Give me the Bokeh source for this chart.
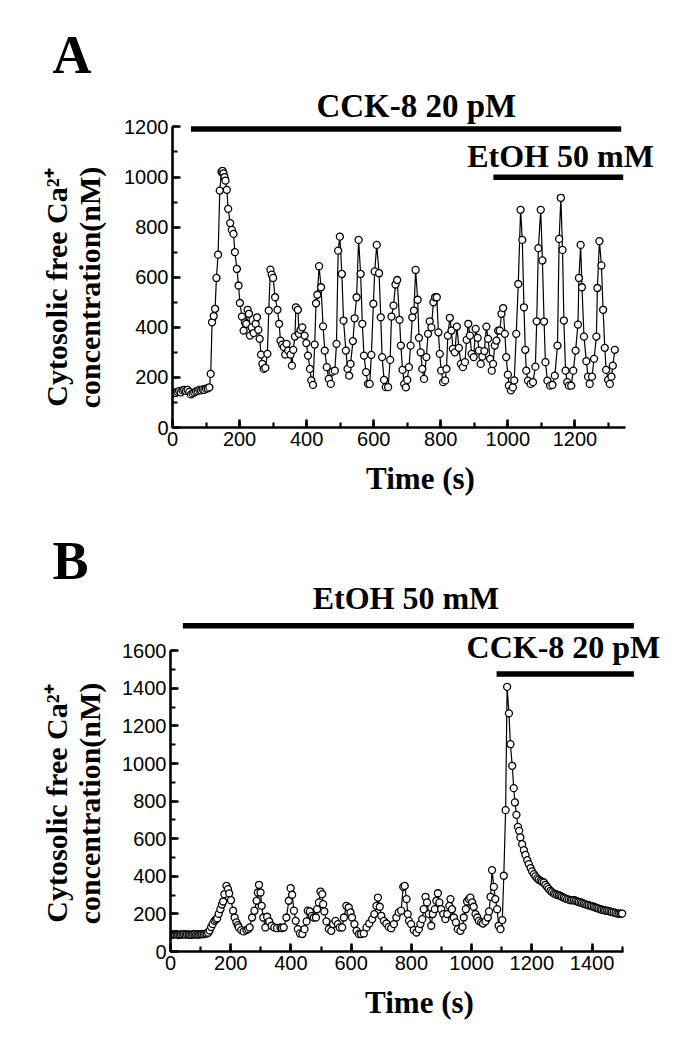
import math
from bokeh.plotting import figure
from bokeh.models import Label, SingleIntervalTicker
from bokeh.layouts import column, row
from bokeh.embed import file_html
from bokeh.resources import INLINE

SERIF = "Liberation Serif"
SANS = "Liberation Sans"

# ---------------- Panel A data: time (s) and cytosolic Ca2+ (nM) ----------------
time_a = [0, 5, 10, 15, 20, 25, 30, 35, 40, 45, 50, 55, 60, 65, 70, 75, 80, 85, 90, 95, 100, 105, 110,
          114, 118, 123, 127, 131, 136, 141, 146, 149, 152, 155, 158, 162, 166, 172, 177, 182, 186, 192,
          197, 201, 207, 212, 216, 220, 224, 228, 231, 236, 242, 248, 252, 256, 260, 264, 268, 272, 277,
          283, 287, 292, 296, 300, 306, 313, 318, 322, 327, 332, 336, 340, 345, 352, 356, 360, 365, 368,
          374, 377, 382, 387, 394, 399, 404, 410, 414, 419, 424, 428, 432, 437, 443, 449, 454, 460, 466,
          472, 477, 484, 489, 494, 499, 505, 510, 517, 522, 527, 531, 538, 543, 549, 555, 561, 566, 571,
          577, 583, 588, 593, 599, 603, 609, 616, 621, 625, 631, 636, 643, 649, 653, 659, 665, 670, 677,
          681, 686, 691, 696, 700, 705, 710, 715, 720, 725, 731, 735, 740, 745, 750, 757, 762, 767, 772,
          778, 783, 788, 793, 797, 801, 807, 813, 817, 821, 827, 832, 836, 842, 848, 854, 860, 866, 872,
          877, 882, 887, 892, 898, 904, 910, 914, 919, 924, 930, 936, 941, 947, 952, 956, 961, 966, 971,
          976, 981, 986, 991, 995, 1000, 1003, 1009, 1015, 1019, 1025, 1031, 1038, 1043, 1048, 1052, 1055,
          1060, 1068, 1075, 1082, 1086, 1091, 1098, 1103, 1108, 1112, 1118, 1126, 1133, 1140, 1148, 1153,
          1158, 1163, 1167, 1172, 1177, 1182, 1189, 1195, 1202, 1209, 1212, 1217, 1221, 1227, 1234, 1239,
          1244, 1251, 1257, 1264, 1267, 1273, 1279, 1284, 1289, 1293, 1299, 1304, 1309, 1313, 1319]
ca_a = [135, 140, 138, 142, 145, 140, 148, 150, 146, 150, 142, 132, 136, 140, 144, 146, 150, 148, 152, 150, 155, 156, 160,
        214, 420, 445, 474, 597, 690, 946, 1020, 1025, 1015, 1000, 986, 949, 873, 816, 789, 773, 700, 633,
        567, 497, 443, 387, 420, 414, 470, 454, 367, 400, 377, 414, 440, 390, 354, 291, 254, 234, 238,
        294, 467, 630, 610, 597, 520, 470, 414, 347, 331, 321, 291, 334, 307, 291, 247, 310, 363, 480,
        470, 374, 390, 400, 367, 337, 287, 234, 188, 170, 331, 496, 530, 644, 560, 404, 307, 241, 194,
        174, 223, 227, 334, 706, 762, 613, 427, 307, 234, 207, 254, 345, 436, 520, 749, 613, 414, 287,
        221, 174, 174, 290, 494, 623, 729, 616, 440, 281, 190, 161, 161, 270, 443, 487, 571, 589, 430,
        327, 230, 174, 160, 190, 241, 327, 440, 467, 629, 510, 358, 300, 234, 194, 281, 374, 424, 400,
        500, 520, 520, 380, 294, 227, 181, 188, 234, 367, 438, 387, 314, 300, 403, 318, 254, 241, 261,
        350, 414, 367, 294, 281, 394, 358, 307, 254, 283, 305, 403, 354, 274, 227, 254, 327, 347, 387,
        387, 454, 477, 374, 281, 211, 167, 148, 160, 188, 374, 573, 869, 749, 480, 310, 227,
        187, 174, 181, 243, 424, 716, 869, 667, 423, 261, 187, 167, 170, 207, 327, 753,
        917, 709, 427, 227, 181, 167, 167, 227, 307, 411, 597, 729, 560, 363, 265, 203,
        174, 203, 274, 363, 557, 744, 647, 470, 318, 230, 190, 174, 203, 247, 310]

# ---------------- Panel B data ----------------
time_b = [0, 5, 10, 15, 20, 25, 30, 35, 40, 45, 50, 55, 60, 65, 70, 75, 80, 85, 90, 95, 100, 105, 110, 115, 120, 125,
          130, 135, 140, 146, 151, 155, 160, 166, 171, 175, 179, 186, 191, 195, 201, 208, 213, 219, 224, 227,
          235, 243, 252, 258, 263, 271, 279, 286, 290, 294, 299, 303, 308, 315, 321, 328, 336, 345, 354, 365,
          370, 376, 385, 393, 399, 404, 410, 416, 423, 430, 438, 445, 452, 456, 463, 470, 476, 483, 487, 493,
          498, 504, 507, 511, 518, 526, 534, 540, 548, 556, 562, 570, 576, 584, 592, 598, 603, 611, 618, 626,
          633, 642, 651, 660, 670, 677, 684, 689, 695, 700, 709, 717, 725, 733, 742, 750, 758, 766, 773, 778,
          784, 788, 792, 799, 808, 817, 825, 830, 836, 841, 847, 852, 858, 866, 871, 878, 883, 888, 893, 899,
          906, 913, 919, 926, 930, 935, 941, 948, 954, 963, 970, 974, 981, 985, 991, 996, 1002, 1007, 1013,
          1019, 1024, 1032, 1038, 1046, 1054, 1058, 1063, 1068, 1074, 1079, 1085, 1090, 1096, 1102, 1107,
          1113, 1118, 1124, 1129, 1135, 1140, 1144, 1149, 1154, 1158, 1162, 1168, 1174, 1179, 1185, 1190,
          1196, 1201, 1207, 1212, 1218, 1223, 1229, 1234, 1240, 1245, 1251, 1256, 1262, 1267, 1273, 1278,
          1284, 1290, 1295, 1300, 1306, 1311, 1317, 1323, 1329, 1334, 1340, 1345, 1351, 1356, 1362, 1367,
          1373, 1378, 1384, 1389, 1395, 1400, 1406, 1411, 1417, 1422, 1428, 1433, 1439, 1444, 1450, 1455,
          1461, 1466, 1472, 1478, 1484, 1490, 1495, 1500]
ca_b = [90, 91, 90, 92, 91, 90, 89, 90, 91, 92, 90, 91, 90, 89, 90, 91, 92, 90, 91, 90, 92, 93, 92, 94, 96, 100,
        112, 130, 146, 163, 170, 177, 200, 225, 250, 266, 305, 349, 332, 309, 273, 217, 181, 155, 140, 128,
        114, 107, 114, 120, 128, 181, 217, 270, 314, 355, 314, 243, 181, 128, 185, 160, 137, 128, 124, 128,
        125, 128, 181, 270, 337, 302, 217, 163, 119, 96, 93, 119, 160, 217, 213, 190, 181, 181, 225, 261,
        319, 305, 252, 213, 160, 119, 110, 146, 163, 146, 128, 128, 181, 243, 234, 208, 181, 146, 110, 93,
        93, 96, 128, 149, 172, 199, 243, 287, 238, 190, 163, 149, 131, 124, 146, 181, 208, 217, 344, 349,
        279, 199, 163, 146, 114, 101, 119, 146, 172, 225, 291, 261, 199, 137, 199, 225, 270, 310, 261, 225,
        199, 172, 199, 243, 279, 225, 181, 155, 119, 110, 131, 181, 225, 266, 279, 287, 261, 238, 199,
        181, 163, 155, 149, 160, 181, 213, 291, 433, 344, 279, 225, 137, 119, 167, 403,
        752, 1408, 1267, 1103, 988, 869, 793, 727, 663, 642, 607, 571, 539, 514, 486, 465,
        444, 426, 412, 400, 389, 382, 376, 371, 367, 355, 344, 333, 323, 316, 309, 305,
        302, 299, 296, 291, 287, 283, 279, 276, 273, 273, 273, 270, 266, 263, 261, 258,
        255, 251, 248, 246, 243, 240, 238, 234, 231, 228, 225, 222, 220, 218, 217, 215,
        213, 210, 208, 205, 202, 202, 202, 202]

# treatment bars: (start s, end s, level nM); labels: (text, centre s, level nM, font px)
bars_a = [(55, 1338, 1192), (957, 1344, 999)]
texts_a = [("CCK-8 20 pM", 727, 1285, 33), ("EtOH 50 mM", 1157, 1083, 32)]
bars_b = [(41, 1539, 1733), (1083, 1539, 1476)]
texts_b = [("EtOH 50 mM", 782, 1882, 32), ("CCK-8 20 pM", 1305, 1621, 32)]

Y_TITLE_1 = "Cytosolic free Ca\u00b2\u207a"
Y_TITLE_2 = "concentration(nM)"


def add_text(p, txt, x, y, size, align="center", angle=0.0):
    p.add_layout(Label(x=x, y=y, text=txt, text_font=SERIF, text_font_style="bold",
                       text_font_size="%dpx" % size, text_color="black", text_align=align,
                       text_baseline="middle", angle=angle))


def style_axes(p, xb, yb):
    for ax, b in ((p.xaxis[0], xb), (p.yaxis[0], yb)):
        ax.ticker = SingleIntervalTicker(interval=200, num_minor_ticks=2)
        ax.bounds = b
        ax.axis_line_width = 2.6
        ax.axis_line_color = "black"
        ax.major_tick_line_width = 2.6
        ax.minor_tick_line_width = 2.2
        ax.major_tick_line_color = "black"
        ax.minor_tick_line_color = "black"
        ax.major_tick_in = 8
        ax.major_tick_out = 0
        ax.minor_tick_in = 5
        ax.minor_tick_out = 0
        ax.major_label_text_font = SANS
        ax.major_label_text_font_size = "20px"
        ax.major_label_text_color = "black"
        ax.major_label_standoff = 4
    p.xaxis.axis_label = "Time (s)"
    p.xaxis.axis_label_text_font = SERIF
    p.xaxis.axis_label_text_font_style = "bold"
    p.xaxis.axis_label_text_font_size = "31px"
    p.xaxis.axis_label_text_color = "black"
    p.xaxis.axis_label_standoff = 12
    p.xgrid.visible = False
    p.ygrid.visible = False
    p.outline_line_color = None


LEFT_W = 110


def side(height, top, bottom, frame_bottom_px, letter, letter_cy, title_cy):
    # side strip: its frame is aligned with the main frame; y is measured in pixels
    # upward from the main frame's bottom edge (page y = frame_bottom_px)
    fh = height - top - bottom
    s = figure(width=LEFT_W, height=height, x_range=(0, LEFT_W), y_range=(0, fh),
               x_axis_type=None, y_axis_type=None, output_backend="svg", toolbar_location=None,
               min_border_left=0, min_border_right=0, min_border_top=top, min_border_bottom=bottom)
    s.outline_line_color = None
    s.xgrid.visible = False
    s.ygrid.visible = False
    add_text(s, letter, 52, frame_bottom_px - letter_cy, 54, align="left")
    add_text(s, Y_TITLE_1, 56, frame_bottom_px - title_cy, 30, angle=math.pi / 2)
    add_text(s, Y_TITLE_2, 89, frame_bottom_px - title_cy, 30, angle=math.pi / 2)
    return s


def panel(times, vals, xr, yr, xb, yb, borders, height, bars, texts):
    p = figure(width=563, height=height, x_range=xr, y_range=yr, output_backend="svg",
               toolbar_location=None, min_border_left=borders[0], min_border_right=borders[1],
               min_border_top=borders[2], min_border_bottom=borders[3])
    style_axes(p, xb, yb)
    p.line(times, vals, line_color="black", line_width=1.2)
    p.scatter(times, vals, size=7, marker="circle", fill_color="white", line_color="black", line_width=1.3)
    for (s, e, lvl) in bars:
        p.line([s, e], [lvl, lvl], line_color="black", line_width=5.5, line_cap="butt")
    for (t, x, y, fs) in texts:
        add_text(p, t, x, y, fs)
    return p


pa = panel(time_a, ca_a, (0, 1479), (0, 1625), (0, 1350), (0, 1200), (62, 5, 20, 88), 515,
           bars_a, texts_a)
pb = panel(time_b, ca_b, (0, 1654), (0, 2240), (0, 1505), (0, 1600), (60, 5, 15, 80), 516,
           bars_b, texts_b)
sa = side(515, 20, 88, 427, "A", 54, 287)
sb = side(516, 15, 80, 436, "B", 45, 288)

layout = column(row(sa, pa, spacing=0), row(sb, pb, spacing=0), spacing=0)
open("out.html", "w").write(file_html(layout, INLINE))
